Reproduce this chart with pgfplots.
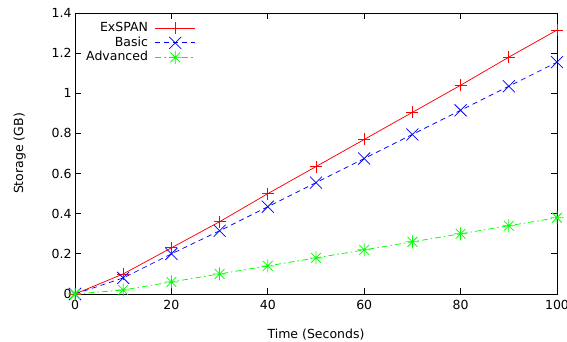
\documentclass[border=0pt]{standalone}
\usepackage{fontspec}
\setmainfont{DejaVu Sans}
\usepackage{pgfplots}
\pgfplotsset{compat=1.18}
\definecolor{gpred}{RGB}{255,0,0}
\definecolor{gpblue}{RGB}{0,0,255}
\definecolor{gpgreen}{RGB}{0,255,0}
\pgfdeclareplotmark{gpstar}{%
  \pgfpathmoveto{\pgfqpoint{-\pgfplotmarksize}{0pt}}\pgfpathlineto{\pgfqpoint{\pgfplotmarksize}{0pt}}%
  \pgfpathmoveto{\pgfqpoint{0pt}{-\pgfplotmarksize}}\pgfpathlineto{\pgfqpoint{0pt}{\pgfplotmarksize}}%
  \pgfpathmoveto{\pgfqpoint{-.75\pgfplotmarksize}{-.75\pgfplotmarksize}}\pgfpathlineto{\pgfqpoint{.75\pgfplotmarksize}{.75\pgfplotmarksize}}%
  \pgfpathmoveto{\pgfqpoint{-.75\pgfplotmarksize}{.75\pgfplotmarksize}}\pgfpathlineto{\pgfqpoint{.75\pgfplotmarksize}{-.75\pgfplotmarksize}}%
  \pgfusepathqstroke}
\begin{document}
\begin{tikzpicture}[font=\fontsize{12.5}{15}\selectfont]
\useasboundingbox (-75pt,-47pt) rectangle (492pt,294pt);
\begin{axis}[
  scale only axis, width=482pt, height=281pt,
  xmin=0, xmax=100, ymin=0, ymax=1.4,
  xtick={0,20,40,60,80,100},
  ytick={0,0.2,0.4,0.6,0.8,1,1.2,1.4},
  yticklabel style={/pgf/number format/fixed},
  xticklabel style={yshift=-3pt},
  /pgf/number format/assume math mode=true,
  tick align=inside, major tick length=6pt,
  axis line style={black, line width=0.8pt},
  every tick/.style={black, line width=0.8pt},
  xlabel={Time (Seconds)}, ylabel={Storage (GB)},
  xlabel style={yshift=-12pt},
  ylabel style={yshift=19pt},
  clip=false,
  legend plot pos=right,
  legend cell align=right,
  legend style={at={(0.257,0.979)}, anchor=north east, draw=none, fill=none,
    row sep=0pt, column sep=5pt,
    nodes={inner xsep=2pt, inner ysep=1.5pt, text height=9pt, text depth=2.5pt}},
  legend image code/.code={%
    \draw[mark repeat=2,mark phase=2] plot coordinates {(0pt,0pt) (20pt,0pt) (40pt,0pt)};},
]
\addplot[gpred, line width=0.75pt, mark=+, mark size=6pt, mark options={solid}]
 coordinates {(0,0) (10,0.10) (20,0.23) (30,0.36) (40,0.50) (50,0.635) (60,0.77) (70,0.905) (80,1.04) (90,1.18) (100,1.315)};
\addlegendentry{ExSPAN}
\addplot[gpblue, line width=0.75pt, dash pattern=on 5pt off 4pt, mark=x, mark size=8.5pt, mark options={solid}]
 coordinates {(0,0) (10,0.08) (20,0.20) (30,0.315) (40,0.435) (50,0.555) (60,0.675) (70,0.795) (80,0.915) (90,1.035) (100,1.155)};
\addlegendentry{Basic}
\addplot[gpgreen, line width=0.75pt, dash pattern=on 6pt off 3pt on 1.5pt off 3pt, mark=gpstar, mark size=6.5pt, mark options={solid}]
 coordinates {(0,0) (10,0.02) (20,0.06) (30,0.10) (40,0.14) (50,0.18) (60,0.22) (70,0.26) (80,0.30) (90,0.34) (100,0.38)};
\addlegendentry{Advanced}
\end{axis}
\end{tikzpicture}
\end{document}
